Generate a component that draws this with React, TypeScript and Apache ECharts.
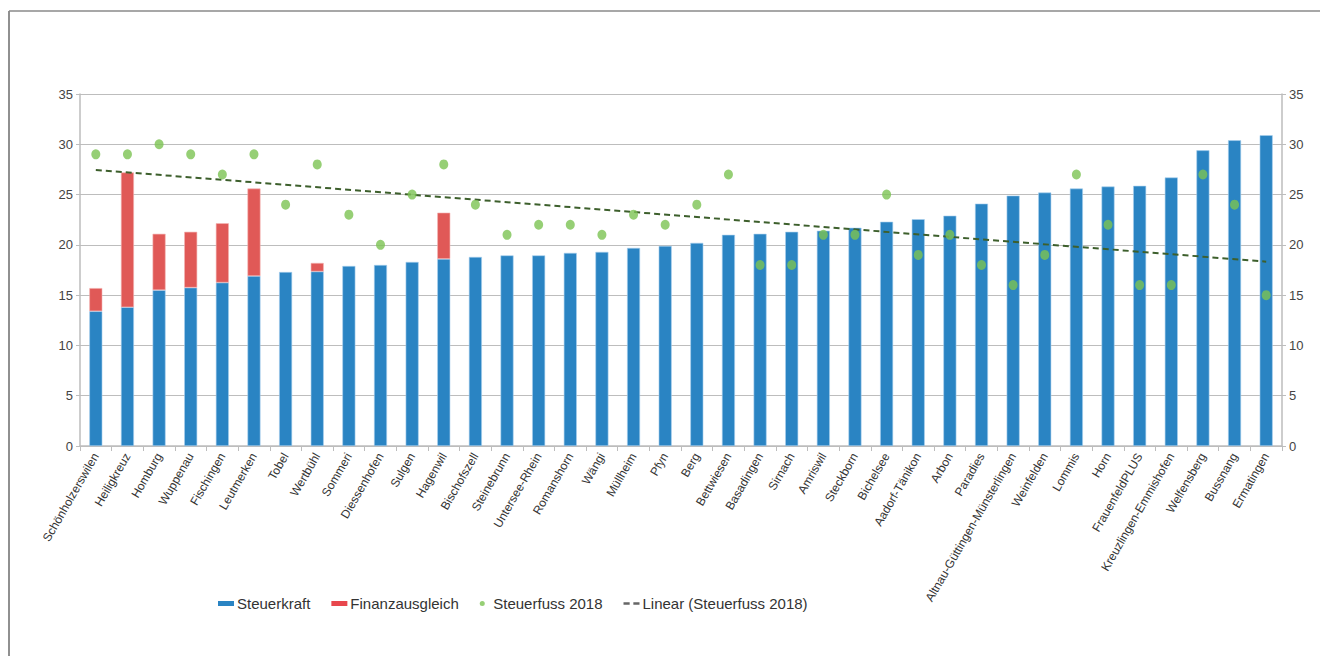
import React, { useEffect, useRef } from "react";
import * as echarts from "echarts";

const categories = [
  "Schönholzerswilen", "Heiligkreuz", "Homburg", "Wuppenau", "Fischingen", "Leutmerken", "Tobel", "Wertbühl",
  "Sommeri", "Diessenhofen", "Sulgen", "Hagenwil", "Bischofszell", "Steinebrunn", "Untersee-Rhein", "Romanshorn",
  "Wängi", "Müllheim", "Pfyn", "Berg", "Bettwiesen", "Basadingen", "Sirnach", "Amriswil", "Steckborn", "Bichelsee",
  "Aadorf-Tänikon", "Arbon", "Paradies", "Altnau-Güttingen-Münsterlingen", "Weinfelden", "Lommis", "Horn",
  "FrauenfeldPLUS", "Kreuzlingen-Emmishofen", "Welfensberg", "Bussnang", "Ermatingen",
];

const steuerkraft = [
  13.4, 13.8, 15.5, 15.75, 16.25, 16.9, 17.3, 17.35, 17.9, 18.0, 18.3, 18.6, 18.8, 18.95, 18.95, 19.2,
  19.3, 19.7, 19.9, 20.2, 21.0, 21.1, 21.3, 21.4, 21.7, 22.3, 22.55, 22.9, 24.1, 24.9, 25.2, 25.6, 25.8,
  25.87, 26.7, 29.4, 30.4, 30.9,
];

const finanzausgleich = [
  2.3, 13.4, 5.6, 5.55, 5.9, 8.7, 0, 0.85, 0, 0, 0, 4.6, 0, 0, 0, 0,
  0, 0, 0, 0, 0, 0, 0, 0, 0, 0, 0, 0, 0, 0, 0, 0, 0,
  0, 0, 0, 0, 0,
];

const steuerfuss = [
  29, 29, 30, 29, 27, 29, 24, 28, 23, 20, 25, 28, 24, 21, 22, 22,
  21, 23, 22, 24, 27, 18, 18, 21, 21, 25, 19, 21, 18, 16, 19, 27, 22,
  16, 16, 27, 24, 15,
];

// Trendline endpoints (first and last category)
const trendStart = 27.45;
const trendEnd = 18.33;

const yTicks = { min: 0, max: 35, interval: 5 };

const FONT = "'Liberation Sans', Arial, sans-serif";

export default function App() {
  const ref = useRef<HTMLDivElement>(null);

  useEffect(() => {
    if (!ref.current) return;
    const chart = echarts.init(ref.current, undefined, { renderer: "svg" });

    const trend = categories.map((_, i) =>
      i === 0 ? trendStart : i === categories.length - 1 ? trendEnd : null
    );

    const yAxisCommon = {
      type: "value",
      min: yTicks.min,
      max: yTicks.max,
      interval: yTicks.interval,
      axisLine: { show: true, lineStyle: { color: "#bdbdbd", width: 1.5 } },
      axisTick: { show: true, length: 4, lineStyle: { color: "#bdbdbd" } },
      splitLine: { show: true, lineStyle: { color: "#bdbdbd", width: 1.2 } },
      axisLabel: { color: "#444", fontSize: 13, fontFamily: FONT, margin: 7 },
    };

    chart.setOption({
      animation: false,
      textStyle: { fontFamily: FONT },
      graphic: [
        { type: "line", shape: { x1: 9, y1: 11, x2: 9, y2: 656 }, style: { stroke: "#6b6b6b", lineWidth: 1.5 } },
        { type: "line", shape: { x1: 9, y1: 11, x2: 1320, y2: 11 }, style: { stroke: "#8a8a8a", lineWidth: 1.5 } },
      ],
      grid: { left: 80, right: 38, top: 94, bottom: 210, containLabel: false },
      legend: {
        left: 213,
        top: 591,
        itemGap: 21,
        itemWidth: 16,
        itemHeight: 5,
        textStyle: { fontSize: 15, color: "#333", fontFamily: FONT, padding: [0, 0, 0, -2] },
        data: [
          { name: "Steuerkraft", icon: "rect", itemStyle: { borderWidth: 0 } },
          { name: "Finanzausgleich", icon: "rect", itemStyle: { color: "#e8474d", borderWidth: 0 } },
          { name: "Steuerfuss 2018", icon: "path://M8 -1A3.5 3.5 0 1 1 8 6A3.5 3.5 0 1 1 8 -1Z" },
          { name: "Linear (Steuerfuss 2018)", icon: "path://M0 1H5V3H0Z M8 1H13V3H8Z" },
        ],
      },
      xAxis: {
        type: "category",
        data: categories,
        axisLine: { lineStyle: { color: "#bdbdbd", width: 1.5 } },
        axisTick: { show: true, length: 5, alignWithLabel: false, lineStyle: { color: "#bdbdbd" } },
        axisLabel: { interval: 0, rotate: 60, color: "#333", fontSize: 12, fontFamily: FONT, margin: 8 },
      },
      yAxis: [
        { ...yAxisCommon, position: "left" },
        { ...yAxisCommon, position: "right", splitLine: { show: false } },
      ],
      series: [
        {
          name: "Steuerkraft",
          type: "bar",
          stack: "total",
          barWidth: 13,
          data: steuerkraft,
          itemStyle: { color: "#2a84c3", borderColor: "#a9d0ee", borderWidth: 0.6 },
        },
        {
          name: "Finanzausgleich",
          type: "bar",
          stack: "total",
          barWidth: 13,
          data: finanzausgleich.map((v) => (v === 0 ? "-" : v)),
          itemStyle: { color: "#e05957", borderColor: "#f4b3b2", borderWidth: 0.6 },
        },
        {
          name: "Steuerfuss 2018",
          type: "scatter",
          data: steuerfuss,
          symbol: "circle",
          symbolSize: [9, 10],
          itemStyle: { color: "#7cc352" },
          z: 5,
        },
        {
          name: "Linear (Steuerfuss 2018)",
          type: "line",
          data: trend,
          connectNulls: true,
          symbol: "none",
          lineStyle: { color: "#3d5f2c", width: 2, type: [6, 4] },
          itemStyle: { color: "#666" },
          z: 4,
        },
      ],
    });

    return () => chart.dispose();
  }, []);

  return (
    <div
      ref={ref}
      style={{ position: "fixed", left: 0, top: 0, width: 1320, height: 656, background: "#fff" }}
    />
  );
}
